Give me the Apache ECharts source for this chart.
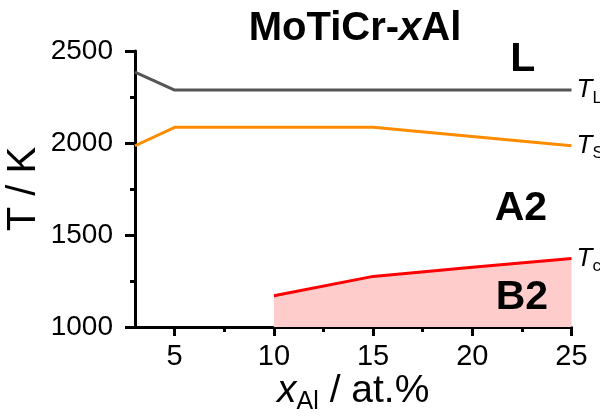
<!DOCTYPE html>
<html><head><meta charset="utf-8">
<script src="https://cdn.jsdelivr.net/npm/echarts@6/dist/echarts.min.js"></script>
<style>html,body{margin:0;padding:0;background:#fff}#c{width:600px;height:416px}</style>
</head><body><div id="c"></div>
<script>
const xMajorTicks = [5, 10, 15, 20, 25];
const xMinorTicks = [7.5, 12.5, 17.5, 22.5];
const tL = [[3, 2385], [5, 2288], [25, 2288]];
const tS = [[3, 1985], [5, 2085], [15, 2085], [25, 1985]];
const tC = [[10, 1170], [15, 1275], [20, 1325], [25, 1372]];
const regionLabels = [
  { name: 'L', value: [22.55, 2451] },
  { name: 'A2', value: [22.45, 1641] },
  { name: 'B2', value: [22.5, 1158] }
];
const endLabels = { TL: 'L', TS: 'S', TC: 'c' };

const FONT = 'Liberation Sans, Arial, sans-serif';
const chart = echarts.init(document.getElementById('c'));
const endRich = {
  i: { fontFamily: FONT, fontStyle: 'italic', fontSize: 26, color: '#000' },
  s: { fontFamily: FONT, fontSize: 17, color: '#000', padding: [16, 0, 0, 0] }
};
function endLabel(sub) {
  return { show: true, distance: 5, formatter: '{i|T}{s|' + sub + '}', rich: endRich };
}
chart.setOption({
  animation: false,
  title: {
    text: '{b|MoTiCr-}{bi|x}{b|Al}',
    left: 350, top: 4, textAlign: 'center',
    textStyle: {
      rich: {
        b: { fontFamily: FONT, fontWeight: 'bold', fontSize: 40, color: '#000' },
        bi: { fontFamily: FONT, fontWeight: 'bold', fontStyle: 'italic', fontSize: 40, color: '#000' }
      }
    }
  },
  grid: { left: 135, right: 28.5, top: 51, bottom: 89, outerBoundsMode: 'none', containLabel: false },
  xAxis: [{
    type: 'value', min: 3, max: 25,
    splitLine: { show: false },
    axisLine: { lineStyle: { color: '#000', width: 3 } },
    axisTick: { customValues: xMajorTicks, length: 9, lineStyle: { width: 3, color: '#000' } },
    axisLabel: { customValues: xMajorTicks, margin: 15, fontFamily: FONT, fontSize: 29, color: '#000' },
    name: '{i|x}{sub|Al}{n| / at.%}',
    nameLocation: 'middle', nameGap: 41, nameMoveOverlap: false,
    nameTextStyle: {
      rich: {
        i: { fontFamily: FONT, fontStyle: 'italic', fontSize: 39, color: '#000' },
        sub: { fontFamily: FONT, fontSize: 25, color: '#000', padding: [22, 0, 0, 0] },
        n: { fontFamily: FONT, fontSize: 39, color: '#000' }
      }
    }
  }, {
    type: 'value', min: 3, max: 25, position: 'bottom', gridIndex: 0,
    splitLine: { show: false },
    axisLine: { show: false },
    axisTick: { customValues: xMinorTicks, length: 5, lineStyle: { width: 3, color: '#000' } },
    axisLabel: { show: false }
  }],
  yAxis: {
    type: 'value', min: 1000, max: 2500, interval: 500,
    splitLine: { show: false },
    axisLine: { show: true, lineStyle: { color: '#000', width: 3 } },
    axisTick: { show: true, length: 10, lineStyle: { width: 3, color: '#000' } },
    minorTick: { show: true, splitNumber: 2, length: 5, lineStyle: { width: 3, color: '#000' } },
    axisLabel: { margin: 22, fontFamily: FONT, fontSize: 28, color: '#000', formatter: v => String(v) },
    name: 'T / K', nameLocation: 'middle', nameGap: 91, nameMoveOverlap: false,
    nameTextStyle: { fontFamily: FONT, fontSize: 40, color: '#000' }
  },
  series: [
    { type: 'line', data: tL, symbol: 'none', lineStyle: { color: '#555555', width: 3 }, endLabel: endLabel(endLabels.TL) },
    { type: 'line', data: tS, symbol: 'none', lineStyle: { color: '#ff8c00', width: 3 }, endLabel: endLabel(endLabels.TS) },
    { type: 'line', data: tC, symbol: 'none', lineStyle: { color: '#ff0000', width: 3 },
      areaStyle: { color: '#ffcccc', opacity: 1 }, endLabel: endLabel(endLabels.TC) },
    { type: 'scatter', data: regionLabels, symbolSize: 0, z: 10,
      itemStyle: { opacity: 1 },
      label: { show: true, position: 'inside', formatter: '{b}', fontFamily: FONT, fontWeight: 'bold', fontSize: 41, color: '#000', opacity: 1 } }
  ]
});
</script>
</body></html>
